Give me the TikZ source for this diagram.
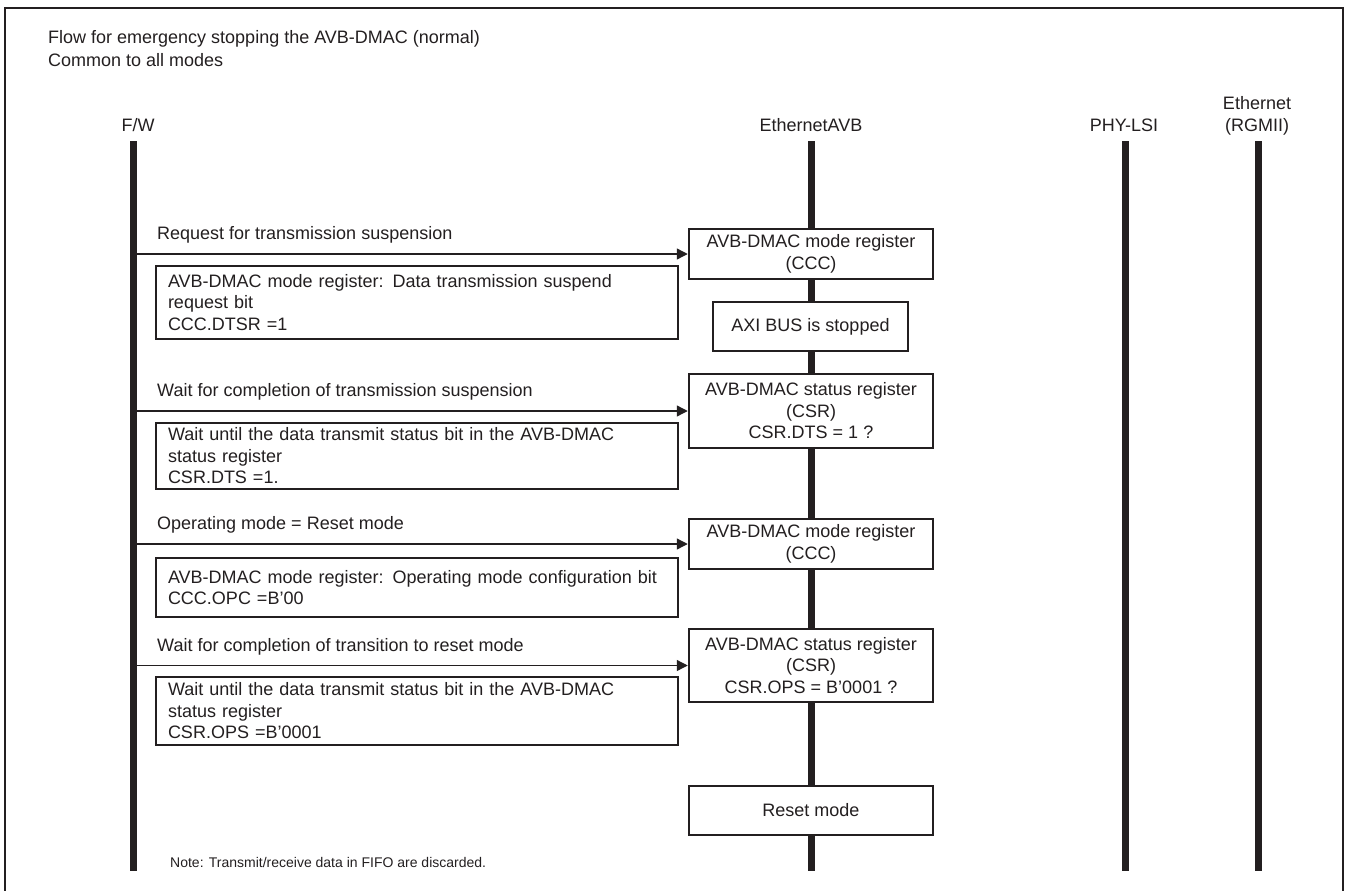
\documentclass[tikz,border=0pt]{standalone}
\usepackage{fontspec}
\setmainfont{Liberation Sans}
\usetikzlibrary{arrows.meta}
\definecolor{ink}{HTML}{231F20}
\begin{document}
\begin{tikzpicture}[x=1pt,y=-1pt,
  every node/.style={font=\fontsize{18}{21.5}\selectfont, inner sep=0pt, text=ink},
  lifeline/.style={line width=7pt, draw=ink},
  regbox/.style={draw=ink, line width=2.5pt, fill=white, minimum width=244pt, align=center},
  notebox/.style={draw=ink, line width=2.5pt, fill=white, inner xsep=12pt, text width=498pt, align=left},
  msg/.style={draw=ink, line width=1.3pt, -{Triangle[length=11pt,width=11pt]}},
  msglabel/.style={anchor=west},
  lanelabel/.style={anchor=base},
]
\useasboundingbox (0,0) rectangle (1346,891);
\draw[ink, line width=2pt] (5,900) -- (5,8) -- (1343,8) -- (1343,900);

% title
\node[anchor=north west, align=left, font=\fontsize{18}{23}\selectfont] (title) at (48,30)
  {Flow for emergency stopping the AVB-DMAC (normal)\\Common to all modes};

% lane labels
\node[lanelabel] (lfw) at (138,131) {F/W};
\node[lanelabel] (lavb) at (811,131) {EthernetAVB};
\node[lanelabel] (lphy) at (1124,131) {PHY-LSI};
\node[anchor=south, align=center] (leth) at (1257,135) {Ethernet\\(RGMII)};

% lifelines
\coordinate (fwT) at (133,141);  \coordinate (fwB) at (133,871);
\coordinate (avbT) at (811,141); \coordinate (avbB) at (811,871);
\coordinate (phyT) at (1125,141); \coordinate (phyB) at (1125,871);
\coordinate (ethT) at (1258,141); \coordinate (ethB) at (1258,871);
\draw[lifeline] (fwT) -- (fwB);
\draw[lifeline] (avbT) -- (avbB);
\draw[lifeline] (phyT) -- (phyB);
\draw[lifeline] (ethT) -- (ethB);

% EthernetAVB boxes
\node[regbox, minimum height=50pt] (ccc1) at (811,254) {AVB-DMAC mode register\\(CCC)};
\node[regbox, minimum width=195pt, minimum height=49pt] (axi) at (810.5,326.5) {AXI BUS is stopped};
\node[regbox, minimum height=74pt] (csr1) at (811,411) {AVB-DMAC status register\\(CSR)\\CSR.DTS = 1 ?};
\node[regbox, minimum height=50pt] (ccc2) at (811,544) {AVB-DMAC mode register\\(CCC)};
\node[regbox, minimum height=73pt] (csr2) at (811,665.5) {AVB-DMAC status register\\(CSR)\\CSR.OPS = B'0001 ?};
\node[regbox, minimum height=49pt] (reset) at (811,810.5) {Reset mode};

% F/W notes
\node[notebox, minimum height=73pt] (n1) at (417,302.5)
  {AVB-DMAC mode register: Data transmission suspend\\request bit\\CCC.DTSR =1};
\node[notebox, minimum height=66pt] (n2) at (417,456)
  {Wait until the data transmit status bit in the AVB-DMAC\\status register\\CSR.DTS =1.};
\node[notebox, minimum height=59pt] (n3) at (417,587.5)
  {AVB-DMAC mode register: Operating mode configuration bit\\CCC.OPC =B'00};
\node[notebox, minimum height=68pt] (n4) at (417,711)
  {Wait until the data transmit status bit in the AVB-DMAC\\status register\\CSR.OPS =B'0001};

% messages
\coordinate (m1) at (136.5,254);
\coordinate (m2) at (136.5,411);
\coordinate (m3) at (136.5,544);
\coordinate (m4) at (136.5,665.5);
\draw[msg] (m1) -- (ccc1.west);
\draw[msg] (m2) -- (csr1.west);
\draw[msg] (m3) -- (ccc2.west);
\draw[msg] (m4) -- (csr2.west);
\node[msglabel] (t1) at (157,235) {Request for transmission suspension};
\node[msglabel] (t2) at (157,392) {Wait for completion of transmission suspension};
\node[msglabel] (t3) at (157,525) {Operating mode = Reset mode};
\node[msglabel] (t4) at (157,647) {Wait for completion of transition to reset mode};

% note
\node[anchor=west, font=\fontsize{14}{17}\selectfont] (note) at (170,862)
  {Note: Transmit/receive data in FIFO are discarded.};
\end{tikzpicture}
\end{document}
